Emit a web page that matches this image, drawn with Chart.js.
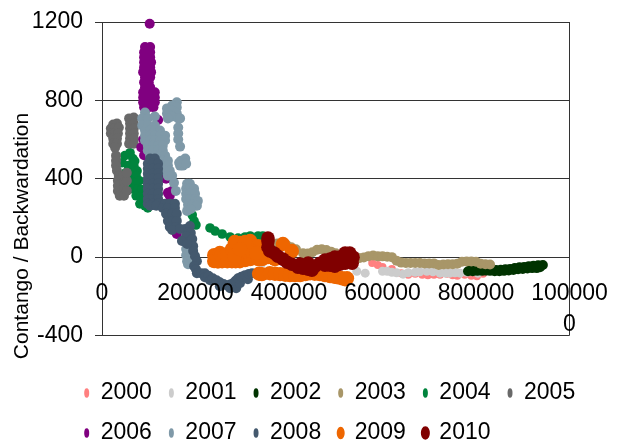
<!DOCTYPE html>
<html><head><meta charset="utf-8">
<script src="https://cdn.jsdelivr.net/npm/chart.js@4"></script>
<style>html,body{margin:0;padding:0;background:#fff}canvas{display:block}</style>
</head><body><canvas id="c" width="624" height="443"></canvas>
<script>
const years=['2000','2001','2002','2003','2004','2005','2006','2007','2008','2009','2010'];
const colors=['#FF8080','#CCCCCC','#003300','#A89668','#00843D','#696969','#800080','#7F99A8','#44596E','#EE6600','#800000'];
const radii=[4,4.5,5,5,4.8,5,5,5,5,7.2,6.8];
const legendStroke=[0,0,0,0,0,0,0,0,0,3,4];
const axisTitle='Contango / Backwardation';

const s2000=[[578000,-30],[590000,-40],[600000,-50],[620000,-60],[640000,-82],[655000,-90],[670000,-85],[685000,-90],[697000,-92],[710000,-90],[723000,-90],[738000,-85],[750000,-92],[760000,-95],[776000,-90],[790000,-95],[802000,-97],[815000,-85]];
const s2001=[[342000,-30],[391000,-72],[488000,-62],[545000,-72],[563000,-82],[600000,-72],[610000,-72],[620000,-77],[630000,-80],[644000,-87],[655000,-80],[670000,-77],[680000,-75],[695000,-72],[708000,-75],[723000,-82],[735000,-82],[744000,-82],[755000,-80],[766000,-82],[780000,-77],[791000,-72],[804000,-82]];
const s2002=[[783000,-72],[793000,-72],[803000,-70],[813000,-70],[823000,-68],[833000,-66],[843000,-66],[853000,-64],[863000,-62],[873000,-60],[883000,-56],[893000,-52],[903000,-50],[913000,-46],[923000,-44],[933000,-42],[943000,-40],[790000,-60],[800000,-62],[810000,-66],[820000,-68],[830000,-70],[840000,-72],[850000,-72],[860000,-70],[870000,-68],[880000,-66],[890000,-62],[900000,-60],[910000,-58],[920000,-56],[930000,-56],[937000,-52]];
const s2003=[[355000,70],[365000,70],[375000,70],[385000,65],[395000,62],[405000,50],[415000,40],[430000,20],[440000,18],[450000,25],[460000,38],[470000,40],[480000,36],[490000,28],[500000,20],[510000,12],[520000,8],[530000,5],[540000,0],[550000,-5],[560000,-2],[570000,5],[580000,8],[590000,4],[600000,4],[610000,2],[620000,0],[630000,-18],[640000,-28],[650000,-30],[660000,-30],[670000,-30],[680000,-30],[690000,-32],[700000,-32],[710000,-32],[720000,-40],[730000,-38],[740000,-36],[750000,-36],[760000,-34],[770000,-24],[780000,-22],[790000,-22],[800000,-24],[810000,-34],[820000,-36],[830000,-38]];
const s2004=[[49000,518],[60000,533],[66000,503],[70000,490],[43000,482],[56000,467],[68000,467],[75000,440],[51000,431],[64000,431],[73000,415],[60000,390],[80000,390],[71000,379],[64000,349],[77000,349],[85000,345],[73000,313],[83000,308],[81000,272],[92000,262],[98000,251],[90000,297],[103000,287],[193000,215],[197000,185],[201000,164],[231000,149],[242000,133],[257000,118],[274000,103],[291000,97],[306000,103],[317000,108],[334000,108],[344000,108]];
const s2005=[[24000,677],[32000,682],[19000,656],[28000,656],[36000,662],[19000,631],[28000,631],[34000,631],[24000,605],[32000,605],[24000,579],[32000,579],[28000,559],[58000,708],[68000,713],[60000,682],[68000,682],[60000,656],[68000,656],[60000,631],[68000,631],[60000,605],[68000,605],[58000,579],[68000,579],[30000,518],[30000,492],[30000,467],[32000,441],[36000,415],[34000,390],[45000,415],[34000,364],[47000,379],[34000,338],[47000,349],[38000,313],[47000,313],[53000,338],[53000,390],[53000,431]];
const s2006=[[102000,1191],[92000,1072],[103000,1072],[90000,1046],[98000,1046],[103000,1046],[90000,1020],[98000,1020],[103000,1020],[90000,995],[98000,995],[105000,995],[90000,969],[98000,969],[103000,969],[88000,944],[96000,944],[105000,944],[92000,918],[103000,918],[90000,892],[100000,892],[92000,867],[103000,867],[88000,841],[98000,841],[108000,841],[113000,841],[88000,815],[98000,815],[108000,815],[113000,815],[88000,790],[98000,790],[108000,790],[113000,790],[90000,765],[100000,765],[110000,765],[90000,700],[120000,700],[88000,600],[84000,560],[90000,520],[139000,467],[135000,405],[137000,400],[150000,338],[141000,328],[145000,313],[150000,262],[160000,118]];
const s2007=[[92000,738],[86000,708],[98000,708],[113000,718],[86000,672],[98000,672],[113000,672],[92000,646],[103000,646],[113000,646],[124000,646],[92000,620],[103000,620],[113000,620],[124000,620],[135000,620],[92000,595],[103000,595],[113000,595],[124000,595],[135000,595],[98000,569],[109000,569],[120000,569],[130000,569],[98000,544],[109000,544],[120000,544],[130000,544],[103000,518],[113000,518],[124000,518],[135000,518],[107000,492],[120000,492],[130000,492],[141000,492],[124000,467],[135000,467],[141000,467],[135000,441],[145000,441],[141000,415],[150000,415],[154000,379],[158000,338],[160000,790],[150000,774],[139000,759],[160000,764],[150000,749],[139000,733],[160000,733],[150000,718],[163000,708],[141000,708],[167000,708],[163000,662],[163000,631],[163000,600],[167000,564],[169000,492],[178000,503],[173000,467],[167000,467],[165000,482],[180000,477],[182000,374],[188000,374],[180000,349],[188000,349],[197000,349],[180000,323],[188000,323],[199000,323],[180000,297],[188000,297],[199000,297],[205000,287],[184000,267],[193000,267],[203000,262],[182000,236],[190000,246],[180000,103],[180000,72],[180000,41],[180000,10],[182000,-21],[184000,-36]];
const s2008=[[103000,503],[113000,503],[98000,477],[109000,477],[120000,477],[98000,451],[109000,451],[120000,451],[98000,426],[109000,426],[120000,426],[98000,400],[109000,400],[120000,400],[98000,374],[109000,374],[120000,374],[98000,349],[109000,349],[120000,349],[98000,323],[109000,323],[120000,323],[98000,297],[109000,297],[120000,297],[98000,272],[109000,272],[120000,272],[103000,262],[116000,262],[135000,272],[145000,272],[156000,272],[130000,251],[141000,251],[156000,251],[137000,221],[150000,221],[160000,221],[141000,185],[152000,185],[160000,185],[145000,154],[158000,154],[150000,138],[167000,144],[178000,144],[188000,159],[184000,128],[190000,123],[180000,108],[193000,92],[171000,82],[195000,56],[182000,67],[195000,31],[199000,5],[203000,-21],[197000,-46],[201000,-62],[203000,-82],[212000,-82],[220000,-82],[220000,-103],[228000,-95],[231000,-118],[237000,-108],[245000,-118],[252000,-128],[252000,-149],[260000,-137],[267000,-144],[274000,-140],[274000,-159],[280000,-133],[287000,-159],[286000,-120],[295000,-133],[291000,-108],[298000,-100],[306000,-92],[312000,-113],[314000,-86],[321000,-82]];
const s2009=[[240000,10],[240000,-20],[252000,21],[257000,-21],[248000,-22],[255000,5],[262000,0],[268000,-21],[278000,-21],[286000,-21],[295000,-21],[306000,-15],[317000,-10],[334000,-10],[342000,-10],[268000,15],[278000,41],[295000,72],[317000,82],[334000,56],[342000,21],[355000,0],[284000,5],[306000,31],[321000,31],[284000,77],[306000,77],[295000,40],[330000,20],[370000,-10],[387000,67],[406000,31],[336000,-85],[342000,-87],[359000,-82],[370000,-85],[381000,-87],[392000,-90],[402000,-92],[413000,-92],[424000,-92],[435000,-87],[445000,-82],[455000,-85],[466000,-87],[477000,-92],[488000,-97],[497000,-100],[505000,-103],[514000,-108],[520000,-113],[524000,-108]];
const s2010=[[355000,97],[355000,82],[355000,51],[359000,31],[368000,21],[376000,5],[387000,-10],[396000,-26],[406000,-36],[419000,-51],[424000,-35],[430000,-56],[441000,-62],[449000,-67],[456000,-46],[466000,-31],[477000,-41],[488000,-41],[498000,-46],[488000,-10],[498000,0],[509000,0],[520000,21],[530000,21],[537000,0],[535000,-31],[520000,-31],[509000,-36],[477000,-15],[441000,-30]];
const series=[s2000,s2001,s2002,s2003,s2004,s2005,s2006,s2007,s2008,s2009,s2010];

const xTickLabels={0:'0',200000:'200000',400000:'400000',600000:'600000',800000:'800000',1000000:['100000','0']};
const yTickLabels=['-400','0','400','800','1200'];

const datasets=years.map((label,i)=>({
  label,
  data:series[i].map(p=>({x:p[0],y:p[1]})),
  backgroundColor:colors[i],borderColor:colors[i],
  pointRadius:radii[i],pointHoverRadius:radii[i],pointBorderWidth:0,
  clip:false,order:years.length-i
}));

const placePieces={id:'placePieces',afterLayout(c){
  const l=c.legend;l.left=67.2;l.right=624;l.top=364.5;l.bottom=443;
  const t=c.titleBlock;t.left=9.5;t.right=t.left+t.width;t.top=14.5;t.bottom=457.5;
}};

new Chart(document.getElementById('c'),{
  type:'scatter',
  data:{datasets},
  plugins:[placePieces],
  options:{
    responsive:false,animation:false,
    layout:{padding:{top:22,bottom:17.5,left:0,right:0}},
    plugins:{
      tooltip:{enabled:false},
      title:{display:true,position:'left',text:axisTitle,color:'#000',padding:0,
        font:{family:'"Liberation Sans",Arial,sans-serif',size:21,weight:'normal',lineHeight:1.2}},
      legend:{position:'bottom',align:'start',
        labels:{usePointStyle:true,boxHeight:6.8,boxWidth:5,pointStyleWidth:5,padding:17,color:'#000',
          font:{family:'"Liberation Sans",Arial,sans-serif',size:23},
          sort:(a,b)=>a.datasetIndex-b.datasetIndex,
          generateLabels(chart){
            return years.map((y,i)=>({text:y,fillStyle:colors[i],strokeStyle:colors[i],
              lineWidth:legendStroke[i],pointStyle:'circle',datasetIndex:i,hidden:false,fontColor:'#000'}));
          }}}
    },
    scales:{
      x:{type:'linear',position:{y:0},min:0,max:1000000,
        afterFit(s){s.paddingLeft=0;s.paddingRight=0;s.height=0;},
        border:{display:false},
        grid:{tickLength:0,drawTicks:false,lineWidth:1,
          color:ctx=>ctx.tick&&(ctx.tick.value===1000000||ctx.tick.value===0)?'#333':'rgba(0,0,0,0)'},
        ticks:{z:1,stepSize:200000,autoSkip:false,maxRotation:0,minRotation:0,padding:21,color:'#000',
          font:{family:'"Liberation Sans",Arial,sans-serif',size:23,lineHeight:1.35},
          callback:v=>xTickLabels[v]}},
      y:{type:'linear',position:'left',min:-400,max:1200,
        afterFit(s){s.width=102-25.2;s.paddingTop=0;s.paddingBottom=0;},
        border:{color:'#333'},
        grid:{color:'#333',lineWidth:1,tickLength:7},
        ticks:{stepSize:400,padding:12,color:'#000',autoSkip:false,
          font:{family:'"Liberation Sans",Arial,sans-serif',size:23},
          callback:v=>yTickLabels.includes(String(v))?String(v):''}},
      pad:{type:'linear',position:'right',display:true,
        afterFit(s){s.width=54.5;},
        border:{display:false},grid:{display:false},ticks:{display:false}}
    }
  }
});
</script></body></html>
